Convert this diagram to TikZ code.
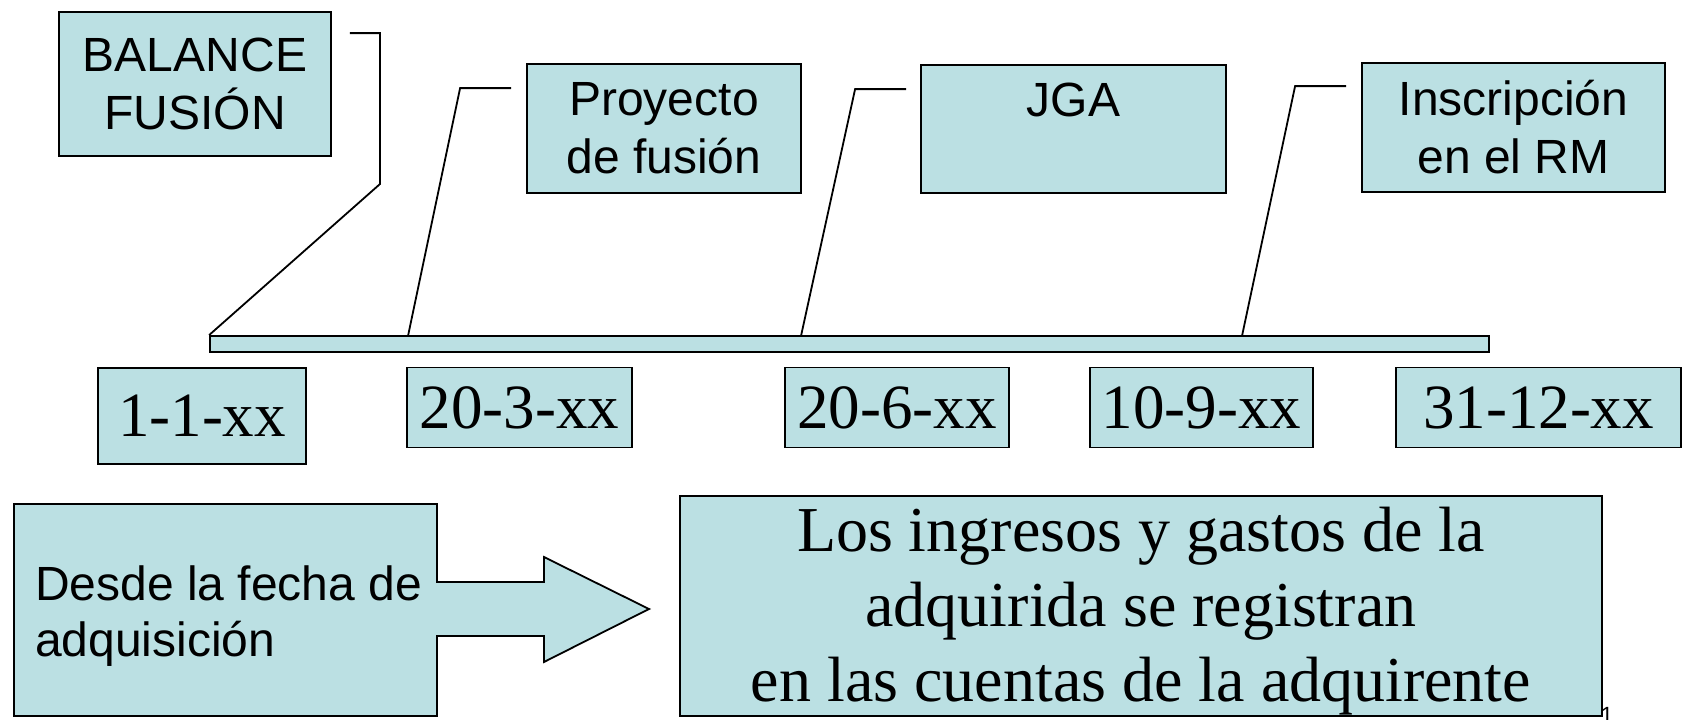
\documentclass[tikz,border=0pt]{standalone}
\usepackage{fontspec}
\setmainfont{Liberation Serif}
\setsansfont{Liberation Sans}
\usepackage{xcolor}
\usepackage{tikz}
\usetikzlibrary{shapes,arrows}
\definecolor{boxblue}{HTML}{BBE0E3}
\tikzstyle{block} = [rectangle, draw, fill=boxblue, line width=1.8pt, inner sep=0pt,
    font=\sffamily\fontsize{48}{58}\selectfont, align=center]
\tikzstyle{datebox} = [rectangle, draw, fill=boxblue, line width=1.8pt, inner sep=0pt,
    font=\rmfamily\fontsize{63}{70}\selectfont, minimum height=80pt]
\tikzstyle{bigbox} = [rectangle, draw, fill=boxblue, line width=1.8pt, inner sep=0pt,
    font=\rmfamily\fontsize{64}{75}\selectfont, align=center]
\tikzstyle{line} = [draw, line width=1.8pt]

\begin{document}
\begin{tikzpicture}[x=1pt, y=-1pt]
			\useasboundingbox (0,0) rectangle (1682,720);
			\clip (0,0) rectangle (1682,720);
			% Place nodes
			\node [block, minimum width=272pt, minimum height=144pt] (balance) at (195,84) {BALANCE\\FUSIÓN};
			\node [block, minimum width=274pt, minimum height=129pt] (proyecto) at (664,128.5) {Proyecto\\de fusión};
			\node [block, minimum width=305pt, minimum height=128pt] (jga) at (1073.5,129) {JGA\\\mbox{}};
			\node [block, minimum width=303pt, minimum height=129pt] (inscripcion) at (1513.5,127.5) {Inscripción\\en el RM};

			\node [rectangle, draw, fill=boxblue, line width=1.8pt, inner sep=0pt,
				minimum width=1279pt, minimum height=16pt] (bar) at (849.5,344) {};
			\coordinate (markProyecto) at (408,336);
			\coordinate (markJga) at (801,336);
			\coordinate (markInscripcion) at (1242,336);

			\node [datebox, minimum width=208pt, minimum height=96pt] (d1) at (202,416) {1-1-xx};
			\node [datebox, minimum width=225pt] (d2) at (519.5,407.5) {20-3-xx};
			\node [datebox, minimum width=224pt] (d3) at (897,407.5) {20-6-xx};
			\node [datebox, minimum width=223pt] (d4) at (1201.5,407.5) {10-9-xx};
			\node [datebox, minimum width=285pt] (d5) at (1538.5,407.5) {31-12-xx};

			% Arrow callout
			\path [draw, fill=boxblue, line width=1.8pt] (14,504) -- (437,504) -- (437,582) -- (544,582)
				-- (544,557) -- (649,609) -- (544,662) -- (544,636) -- (437,636) -- (437,716) -- (14,716) -- cycle;
			\node [anchor=west, align=left, inner sep=0pt, font=\sffamily\fontsize{48}{56}\selectfont] (desde) at (35,616)
				{Desde la fecha de\\adquisición};

			\node [bigbox, minimum width=922pt, minimum height=220pt] (registro) at (1141,606) {};
			\node [bigbox, draw=none, fill=none] (registroText) at (1141,611)
				{Los ingresos y gastos de la\\adquirida se registran\\en las cuentas de la adquirente};
			\node [anchor=north, inner sep=0pt, font=\sffamily\fontsize{22}{26}\selectfont] (slideno) at (1607,707) {1};

			% Draw edges
			\path [line] ([xshift=18pt,yshift=-22pt]balance.north east) -| ++(30,151) -- (bar.north west);
			\path [line] ([xshift=-15pt,yshift=-25pt]proyecto.north west) -- ++(-51,0) -- (markProyecto);
			\path [line] ([xshift=-14pt,yshift=-25pt]jga.north west) -- ++(-51,0) -- (markJga);
			\path [line] ([xshift=-15pt,yshift=-24pt]inscripcion.north west) -- ++(-51,0) -- (markInscripcion);
	\end{tikzpicture}
\end{document}
